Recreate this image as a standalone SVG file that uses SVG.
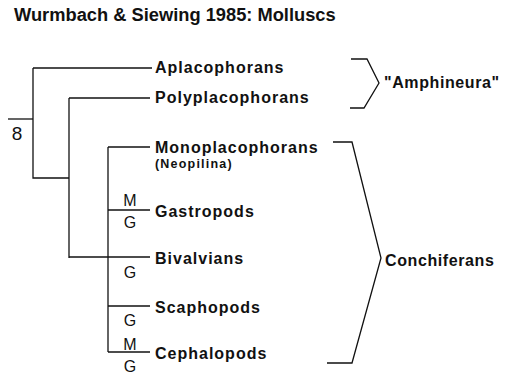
<svg xmlns="http://www.w3.org/2000/svg" width="505" height="376" viewBox="0 0 505 376">
<style>
.t{font-family:"Liberation Sans",Arial,sans-serif;font-weight:bold;font-size:16px;letter-spacing:1px;fill:#111}
.s{font-family:"Liberation Sans",Arial,sans-serif;font-weight:bold;font-size:12.5px;letter-spacing:1.2px;fill:#111}
.m{font-family:"Liberation Sans",Arial,sans-serif;font-size:16px;fill:#111;text-anchor:middle}
.title{font-family:"Liberation Sans",Arial,sans-serif;font-weight:bold;font-size:18.3px;fill:#111}
.ln{stroke:#111;stroke-width:1.3;fill:none}
</style>
<rect width="505" height="376" fill="#fff"/>
<text class="title" x="14" y="21">Wurmbach &amp; Siewing 1985: Molluscs</text>
<g id="connectors" class="ln">
<path d="M8 119H33"/>
<path d="M33 68V178H69"/>
<path d="M33 68H152"/>
<path d="M69 98V258"/>
<path d="M69 98H150"/>
<path d="M69 257H150"/>
<path d="M108 147V352"/>
<path d="M108 147H150"/>
<path d="M108 210H150"/>
<path d="M108 306H150"/>
<path d="M108 352H150"/>
</g>
<g id="root-label"><text class="m" x="17" y="140" style="font-size:19px">8</text></g>
<g id="aplacophorans"><text class="t" x="155" y="73">Aplacophorans</text></g>
<g id="polyplacophorans"><text class="t" x="155" y="103">Polyplacophorans</text></g>
<g id="monoplacophorans"><text class="t" x="155" y="153">Monoplacophorans</text><text class="s" x="155" y="168">(Neopilina)</text></g>
<g id="gastropods"><text class="m" x="130" y="206">M</text><text class="m" x="130" y="228">G</text><text class="t" x="155" y="217">Gastropods</text></g>
<g id="bivalvians"><text class="m" x="130" y="278">G</text><text class="t" x="155" y="264">Bivalvians</text></g>
<g id="scaphopods"><text class="m" x="130" y="326">G</text><text class="t" x="155" y="313">Scaphopods</text></g>
<g id="cephalopods"><text class="m" x="130" y="350">M</text><text class="m" x="130" y="372">G</text><text class="t" x="155" y="359">Cephalopods</text></g>
<g id="amphineura"><path class="ln" d="M351 59H367L379 83L364 108H350"/><text class="t" x="384" y="88" style="letter-spacing:0.6px">"Amphineura"</text></g>
<g id="conchiferans"><path class="ln" d="M333 142H352L381 258L352 363H327"/><text class="t" x="385" y="266" style="letter-spacing:0.6px">Conchiferans</text></g>
</svg>
